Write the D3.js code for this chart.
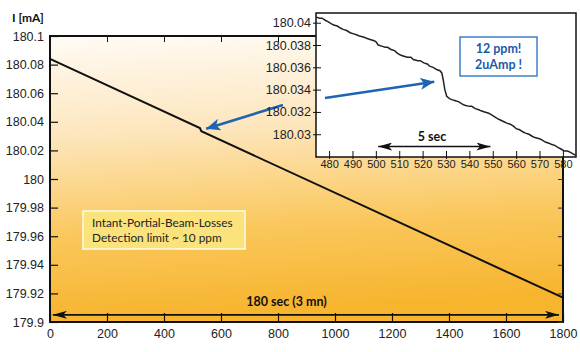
<!DOCTYPE html>
<html>
<head>
<meta charset="utf-8">
<script src="https://cdn.jsdelivr.net/npm/d3@7"></script>
<style>
  body { margin: 0; background: #fff; }
  svg { display: block; font-family: Lato, "Open Sans", sans-serif; }
</style>
</head>
<body>
<div id="chart"></div>
<script>
// main trace (time in s, current in mA)
const mainT = [0, 526, 531, 1800];
const mainI = [180.084, 180.0356, 180.0334, 179.917];
const mainXTicks = [0, 200, 400, 600, 800, 1000, 1200, 1400, 1600, 1800];
const mainYTicks = [180.1, 180.08, 180.06, 180.04, 180.02, 180, 179.98, 179.96, 179.94, 179.92, 179.9];

// zoomed trace around the loss
const insetT = [474.5, 476, 477, 478.5, 479.5, 481, 482, 483.5, 485, 486, 487.5, 489, 490.5, 492, 493, 495, 496, 497.5, 499, 500, 501, 502.5, 504, 505, 506.5, 508, 509, 510.5, 512, 513.5, 515, 516, 518, 519, 520.5, 522, 523, 524.5, 526, 527.4, 528.2, 528.8, 529.5, 530.3, 531.5, 532.5, 534, 535.5, 537, 538, 540, 541, 542.5, 544, 545, 546.5, 548, 549, 550.5, 552, 553, 555, 556, 557.5, 559, 560, 561.5, 563, 564, 565.5, 567, 568, 570, 571, 572.5, 574, 575, 576.5, 578, 579, 580.5, 582, 583, 585.5];
const insetI = [180.0405, 180.0404, 180.0404, 180.0402, 180.0401, 180.0399, 180.0398, 180.0397, 180.0395, 180.0394, 180.0393, 180.0391, 180.0390, 180.0389, 180.0388, 180.0387, 180.0386, 180.0385, 180.0384, 180.0383, 180.0380, 180.0379, 180.0378, 180.0378, 180.0376, 180.0375, 180.0373, 180.0371, 180.0370, 180.0369, 180.0369, 180.0367, 180.0366, 180.0366, 180.0364, 180.0363, 180.0361, 180.0360, 180.0358, 180.0357, 180.0355, 180.0349, 180.0340, 180.0334, 180.0332, 180.0331, 180.0330, 180.0329, 180.0327, 180.0326, 180.0325, 180.0325, 180.0323, 180.0322, 180.0321, 180.0320, 180.0319, 180.0318, 180.0316, 180.0314, 180.0313, 180.0311, 180.0310, 180.0309, 180.0307, 180.0305, 180.0304, 180.0302, 180.0301, 180.0300, 180.0298, 180.0297, 180.0296, 180.0295, 180.0293, 180.0292, 180.0291, 180.0290, 180.0288, 180.0287, 180.0285, 180.0285, 180.0284, 180.0281];
const insetXTicks = [480, 490, 500, 510, 520, 530, 540, 550, 560, 570, 580];
const insetYTicks = [180.04, 180.038, 180.036, 180.034, 180.032, 180.03];

const W = 580, H = 352;
const svg = d3.select("#chart").append("svg")
  .attr("width", W).attr("height", H);

const defs = svg.append("defs");
const grad = defs.append("linearGradient").attr("id", "bg")
  .attr("x1", 0).attr("y1", 0).attr("x2", 0.1).attr("y2", 1);
grad.append("stop").attr("offset", "0%").attr("stop-color", "#fffbf5");
grad.append("stop").attr("offset", "35%").attr("stop-color", "#fde6bd");
grad.append("stop").attr("offset", "70%").attr("stop-color", "#fac75c");
grad.append("stop").attr("offset", "100%").attr("stop-color", "#f7b42d");

function arrowMarker(id, color, len, half) {
  defs.append("marker").attr("id", id)
    .attr("markerUnits", "userSpaceOnUse")
    .attr("viewBox", `0 0 ${len} ${half * 2}`)
    .attr("refX", len).attr("refY", half)
    .attr("markerWidth", len).attr("markerHeight", half * 2)
    .attr("orient", "auto-start-reverse")
    .append("path")
      .attr("d", `M0,0L${len},${half}L0,${half * 2}L${len * 0.25},${half}Z`)
      .attr("fill", color);
}
arrowMarker("blackHead", "#111", 14, 4);
arrowMarker("blueHead", "#1f63b3", 14, 6);

// ---- main plot
const m = {left: 50, right: 563, top: 36, bottom: 322};
const x = d3.scaleLinear().domain([0, 1800]).range([m.left, m.right]);
const y = d3.scaleLinear().domain([179.9, 180.1]).range([m.bottom, m.top]);

svg.append("rect")
  .attr("x", m.left).attr("y", m.top)
  .attr("width", m.right - m.left).attr("height", m.bottom - m.top)
  .attr("fill", "url(#bg)").attr("stroke", "#111").attr("stroke-width", 2);

svg.append("g")
  .attr("transform", `translate(${m.left},0)`)
  .call(d3.axisLeft(y).tickValues(mainYTicks).tickFormat(d => +d.toFixed(2))
    .tickSizeInner(-8).tickSizeOuter(0).tickPadding(6))
  .call(g => g.select(".domain").remove())
  .call(g => g.selectAll("line").attr("stroke", "#111").attr("stroke-width", 1.2))
  .call(g => g.selectAll("text").attr("font-size", 12.5).attr("fill", "#222").attr("font-family", null));

svg.append("g")
  .attr("transform", `translate(${m.right},0)`)
  .call(d3.axisRight(y).tickValues(mainYTicks).tickFormat("").tickSizeInner(-5).tickSizeOuter(0))
  .call(g => g.select(".domain").remove())
  .call(g => g.selectAll("line").attr("stroke", "#333"));

svg.append("g")
  .attr("transform", `translate(0,${m.bottom})`)
  .call(d3.axisBottom(x).tickValues(mainXTicks).tickFormat(d3.format("d"))
    .tickSizeInner(-9).tickSizeOuter(0).tickPadding(7))
  .call(g => g.select(".domain").remove())
  .call(g => g.selectAll("line").attr("stroke", "#111").attr("stroke-width", 1.2))
  .call(g => g.selectAll("text").attr("font-size", 12.5).attr("fill", "#222").attr("font-family", null));

svg.append("g")
  .attr("transform", `translate(0,${m.top})`)
  .call(d3.axisTop(x).tickValues(mainXTicks).tickFormat("").tickSizeInner(-6).tickSizeOuter(0))
  .call(g => g.select(".domain").remove())
  .call(g => g.selectAll("line").attr("stroke", "#111"));

svg.append("text")
  .attr("x", 12).attr("y", 22)
  .attr("font-size", 12).attr("font-weight", "bold").attr("fill", "#111")
  .text("I [mA]");

const mainData = mainT.map((t, i) => [t, mainI[i]]);
svg.append("path")
  .datum(mainData)
  .attr("fill", "none").attr("stroke", "#111").attr("stroke-width", 2)
  .attr("d", d3.line().x(d => x(d[0])).y(d => y(d[1])));

// 180 sec double arrow
svg.append("line")
  .attr("x1", x(10)).attr("x2", x(1786))
  .attr("y1", y(179.905)).attr("y2", y(179.905))
  .attr("stroke", "#111").attr("stroke-width", 1.8)
  .attr("marker-start", "url(#blackHead)").attr("marker-end", "url(#blackHead)");
svg.append("text")
  .attr("x", x(830)).attr("y", y(179.905) - 9)
  .attr("text-anchor", "middle").attr("font-size", 12.5).attr("font-weight", "bold").attr("fill", "#111")
  .text("180 sec (3 mn)");

// detection-limit note
svg.append("rect")
  .attr("x", 83).attr("y", 211).attr("width", 162).attr("height", 38)
  .attr("fill", "#fbe27a").attr("stroke", "#fffbe8").attr("stroke-width", 1.5);
const note = svg.append("text").attr("font-size", 11.8).attr("fill", "#222");
note.append("tspan").attr("x", 92).attr("y", 227).text("Intant-Portial-Beam-Losses");
note.append("tspan").attr("x", 92).attr("y", 242).text("Detection limit ~ 10 ppm");

// blue arrow toward the glitch on the main trace
svg.append("line")
  .attr("x1", 283).attr("y1", 105).attr("x2", x(548)).attr("y2", y(180.0345) - 1)
  .attr("stroke", "#1f63b3").attr("stroke-width", 2.6)
  .attr("marker-end", "url(#blueHead)");

// ---- inset
const n = {left: 316, right: 576, top: 13, bottom: 157};
const xi = d3.scaleLinear().domain([474.4, 585.6]).range([n.left, n.right]);
const yi = d3.scaleLinear().domain([180.02796, 180.04087]).range([n.bottom, n.top]);

svg.append("rect")
  .attr("x", n.left).attr("y", n.top)
  .attr("width", n.right - n.left).attr("height", n.bottom - n.top)
  .attr("fill", "#fff").attr("stroke", "#111").attr("stroke-width", 1.5);

svg.append("g")
  .attr("transform", `translate(${n.left},0)`)
  .call(d3.axisLeft(yi).tickValues(insetYTicks).tickFormat(d => +d.toFixed(3))
    .tickSizeInner(-5).tickSizeOuter(0).tickPadding(5))
  .call(g => g.select(".domain").remove())
  .call(g => g.selectAll("line").attr("stroke", "#111").attr("x1", -3))
  .call(g => g.selectAll("text").attr("font-size", 12.5).attr("fill", "#222").attr("font-family", null));

svg.append("g")
  .attr("transform", `translate(0,${n.bottom})`)
  .call(d3.axisBottom(xi).tickValues(insetXTicks).tickFormat(d3.format("d"))
    .tickSizeInner(-6).tickSizeOuter(0).tickPadding(3))
  .call(g => g.select(".domain").remove())
  .call(g => g.selectAll("line").attr("stroke", "#111").attr("y1", 2))
  .call(g => g.selectAll("text").attr("font-size", 11).attr("fill", "#222").attr("font-family", null));

const insetData = insetT.map((t, i) => [t, insetI[i]]);
svg.append("path")
  .datum(insetData)
  .attr("fill", "none").attr("stroke", "#222").attr("stroke-width", 1.5)
  .attr("d", d3.line().x(d => xi(d[0])).y(d => yi(d[1])));

// 5 sec double arrow
svg.append("line")
  .attr("x1", xi(501)).attr("x2", xi(549))
  .attr("y1", yi(180.0289)).attr("y2", yi(180.0289))
  .attr("stroke", "#111").attr("stroke-width", 1.5)
  .attr("marker-start", "url(#blackHead)").attr("marker-end", "url(#blackHead)");
svg.append("text")
  .attr("x", xi(524)).attr("y", yi(180.0289) - 6)
  .attr("text-anchor", "middle").attr("font-size", 12.5).attr("font-weight", "bold").attr("fill", "#111")
  .text("5 sec");

// blue arrow inside the inset
svg.append("line")
  .attr("x1", 325).attr("y1", 98).attr("x2", xi(525)).attr("y2", yi(180.0347))
  .attr("stroke", "#1f63b3").attr("stroke-width", 2.6)
  .attr("marker-end", "url(#blueHead)");

// 12 ppm callout
svg.append("rect")
  .attr("x", 460).attr("y", 37).attr("width", 77).attr("height", 39)
  .attr("fill", "#fff").attr("stroke", "#3f7fc6").attr("stroke-width", 1.5);
const ppm = svg.append("text")
  .attr("text-anchor", "middle").attr("font-size", 12.5).attr("font-weight", "bold").attr("fill", "#1c5aa8");
ppm.append("tspan").attr("x", 498.5).attr("y", 53).text("12 ppm!");
ppm.append("tspan").attr("x", 498.5).attr("y", 69).text("2uAmp !");
</script>
</body>
</html>
